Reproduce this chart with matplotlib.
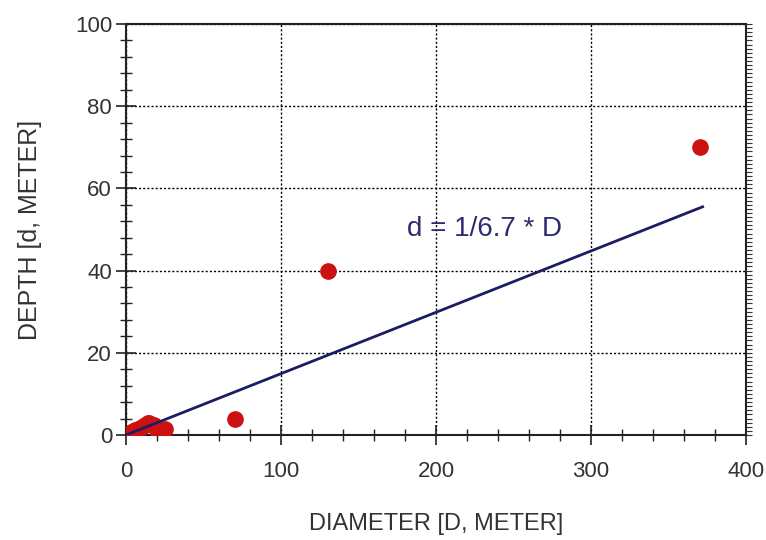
import matplotlib
matplotlib.use("Agg")
import matplotlib.pyplot as plt
import numpy as np
from matplotlib.ticker import MultipleLocator

# Data
diameter = [1, 2, 3, 4, 5, 6, 8, 10, 12, 14, 15, 18, 20, 25, 70, 130, 370]
depth = [0.3, 0.5, 0.8, 0.5, 1.0, 1.2, 1.5, 2.0, 2.5, 2.8, 3.0, 2.5, 1.2, 1.5, 4.0, 40.0, 70.0]
fit_ratio = 6.7
fit_x = [0, 372]
xlabel = "DIAMETER [D, METER]"
ylabel = "DEPTH [d, METER]"
fit_label = "d = 1/6.7 * D"

plt.rcParams['font.family'] = ['Liberation Sans', 'DejaVu Sans']

fig = plt.figure(figsize=(7.66, 5.40), dpi=100)
ax = fig.add_axes([126/766, 1-435/540, 620/766, 411/540])

ax.plot(diameter, depth, 'o', color='#cc1111', ms=11, zorder=3, mec='#cc1111')
fx = np.array(fit_x, dtype=float)
ax.plot(fx, fx / fit_ratio, color='#1c1c66', lw=2, zorder=4)

ax.text(181, 50, fit_label, color='#2b2b70', fontsize=20,
        ha='left', va='center')

ax.set_xlim(0, 400)
ax.set_ylim(0, 100)
ax.xaxis.set_major_locator(MultipleLocator(100))
ax.xaxis.set_minor_locator(MultipleLocator(20))
ax.yaxis.set_major_locator(MultipleLocator(20))
ax.yaxis.set_minor_locator(MultipleLocator(4))

ax.grid(True, which='major', color='black', linestyle=(0, (1.5, 1.5)), lw=1)

for s in ax.spines.values():
    s.set_linewidth(1.5)
    s.set_color('#222222')

ax.tick_params(axis='both', which='major', direction='inout', length=14, width=1.2,
               labelsize=16, colors='#222222', labelcolor='#333333')
ax.tick_params(axis='both', which='minor', direction='inout', length=8, width=1.0,
               colors='#222222')
ax.tick_params(axis='x', which='major', pad=12)
ax.tick_params(axis='y', which='major', pad=3)

# dense ticks on right spine
ax2 = ax.twinx()
ax2.set_ylim(0, 100)
ax2.yaxis.set_major_locator(MultipleLocator(1))
ax2.tick_params(axis='y', which='major', direction='out', length=4, width=0.8,
                labelright=False, colors='#333333')
for s in ax2.spines.values():
    s.set_visible(False)

ax.set_xlabel(xlabel, fontsize=17, color='#333333', labelpad=22)
ax.set_ylabel(ylabel, fontsize=18, color='#333333', labelpad=24)

fig.savefig("out.png", dpi=100, facecolor='white')
